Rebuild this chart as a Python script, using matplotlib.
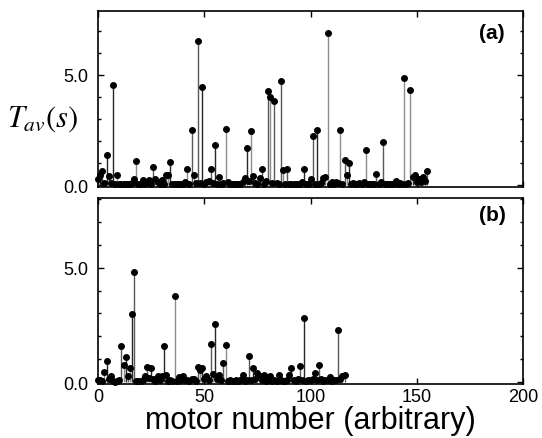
import numpy as np
import matplotlib
matplotlib.use('Agg')
import matplotlib.pyplot as plt
from matplotlib.ticker import MultipleLocator

plt.rcParams['font.family'] = ['Liberation Sans', 'DejaVu Sans']
plt.rcParams['mathtext.fontset'] = 'stix'

# (a) average dwell time per motor, motors 0..155
tav_a = [0.30, 0.47, 0.64, 0.10, 1.36, 0.41, 0.08, 4.56, 0.05, 0.47,
         0.05, 0.04, 0.06, 0.05, 0.03, 0.05, 0.08, 0.30, 1.11, 0.05,
         0.04, 0.25, 0.05, 0.08, 0.25, 0.05, 0.80, 0.30, 0.12, 0.05,
         0.25, 0.06, 0.47, 0.44, 1.04, 0.05, 0.04, 0.05, 0.03, 0.05,
         0.06, 0.15, 0.71, 0.05, 2.52, 0.47, 0.08, 6.55, 0.10, 4.47,
         0.06, 0.15, 0.20, 0.71, 0.10, 1.81, 0.05, 0.36, 0.05, 0.08,
         2.55, 0.12, 0.05, 0.04, 0.05, 0.03, 0.05, 0.06, 0.12, 0.33,
         1.69, 0.20, 2.44, 0.41, 0.08, 0.05, 0.33, 0.74, 0.05, 0.20,
         4.27, 4.00, 0.10, 3.82, 0.08, 0.05, 4.71, 0.68, 0.05, 0.74,
         0.05, 0.04, 0.06, 0.05, 0.03, 0.05, 0.15, 0.74, 0.05, 0.06,
         0.30, 2.22, 0.05, 2.52, 0.05, 0.08, 0.33, 0.36, 6.89, 0.05,
         0.15, 0.05, 0.12, 0.08, 2.52, 0.05, 1.16, 0.47, 1.02, 0.05,
         0.10, 0.05, 0.04, 0.10, 0.05, 0.12, 1.57, 0.05, 0.04, 0.05,
         0.06, 0.52, 0.05, 0.12, 1.96, 0.05, 0.04, 0.05, 0.06, 0.05,
         0.20, 0.05, 0.08, 0.05, 4.86, 0.05, 0.10, 4.33, 0.37, 0.44,
         0.15, 0.30, 0.12, 0.35, 0.20, 0.62]

# (b) motors 0..116
tav_b = [0.10, 0.09, 0.05, 0.45, 0.93, 0.12, 0.28, 0.04, 0.02, 0.05,
         0.08, 1.56, 0.74, 1.08, 0.28, 0.60, 2.97, 4.83, 0.04, 0.03,
         0.05, 0.08, 0.26, 0.67, 0.20, 0.64, 0.12, 0.05, 0.28, 0.10,
         0.28, 1.56, 0.31, 0.05, 0.08, 0.04, 3.77, 0.05, 0.21, 0.08,
         0.28, 0.10, 0.09, 0.05, 0.12, 0.13, 0.06, 0.67, 0.54, 0.61,
         0.15, 0.26, 0.10, 1.66, 0.35, 2.56, 0.12, 0.33, 0.10, 0.82,
         1.63, 0.05, 0.10, 0.03, 0.04, 0.10, 0.05, 0.08, 0.31, 0.05,
         0.10, 1.15, 0.08, 0.61, 0.12, 0.39, 0.26, 0.10, 0.31, 0.05,
         0.10, 0.28, 0.05, 0.08, 0.05, 0.33, 0.10, 0.05, 0.04, 0.10,
         0.31, 0.60, 0.08, 0.05, 0.12, 0.71, 0.10, 2.82, 0.05, 0.08,
         0.10, 0.12, 0.40, 0.10, 0.76, 0.15, 0.05, 0.08, 0.10, 0.24,
         0.05, 0.08, 0.10, 2.28, 0.12, 0.26, 0.31]

panels = ['(a)', '(b)']

fig = plt.figure(figsize=(5.42, 4.39), dpi=100)
ax_a = fig.add_axes([0.181, 0.572, 0.784, 0.401])
ax_b = fig.add_axes([0.181, 0.123, 0.784, 0.424])

for ax, vals, lab, ylim, ly in [(ax_a, tav_a, panels[0], (-0.08, 7.9), 0.875),
                                (ax_b, tav_b, panels[1], (-0.08, 8.05), 0.91)]:
    x = np.arange(len(vals))
    v = np.array(vals)
    shades = np.where(x % 3 == 0, '0.55', np.where(x % 3 == 1, '0.15', '0.35'))
    ax.vlines(x, 0, v, colors=shades, linewidth=1.0)
    ax.plot(x, v, 'o', color='k', markersize=4.0, clip_on=False, zorder=3)
    ax.set_xlim(0, 200)
    ax.set_ylim(*ylim)
    ax.xaxis.set_major_locator(MultipleLocator(50))
    ax.yaxis.set_major_locator(MultipleLocator(5))
    ax.yaxis.set_minor_locator(MultipleLocator(1))
    ax.yaxis.set_major_formatter(plt.FormatStrFormatter('%.1f'))
    ax.tick_params(which='both', direction='in', top=True, right=True,
                   labelsize=13, width=1.0)
    ax.tick_params(which='major', length=4)
    ax.tick_params(which='minor', length=2.5)
    ax.tick_params(axis='y', pad=7)
    ax.tick_params(axis='x', pad=3)
    for s in ax.spines.values():
        s.set_linewidth(1.2)
    ax.text(0.927, ly, lab, transform=ax.transAxes, ha='center', va='center',
            fontsize=15, fontweight='bold')

ax_a.tick_params(axis='x', labelbottom=False)
ax_b.set_xlabel('motor number (arbitrary)', fontsize=22, labelpad=0)
fig.text(0.078, 0.728, r'$T_{av}(s)$', fontsize=22, ha='center', va='center')

fig.savefig('out.png', dpi=100)
